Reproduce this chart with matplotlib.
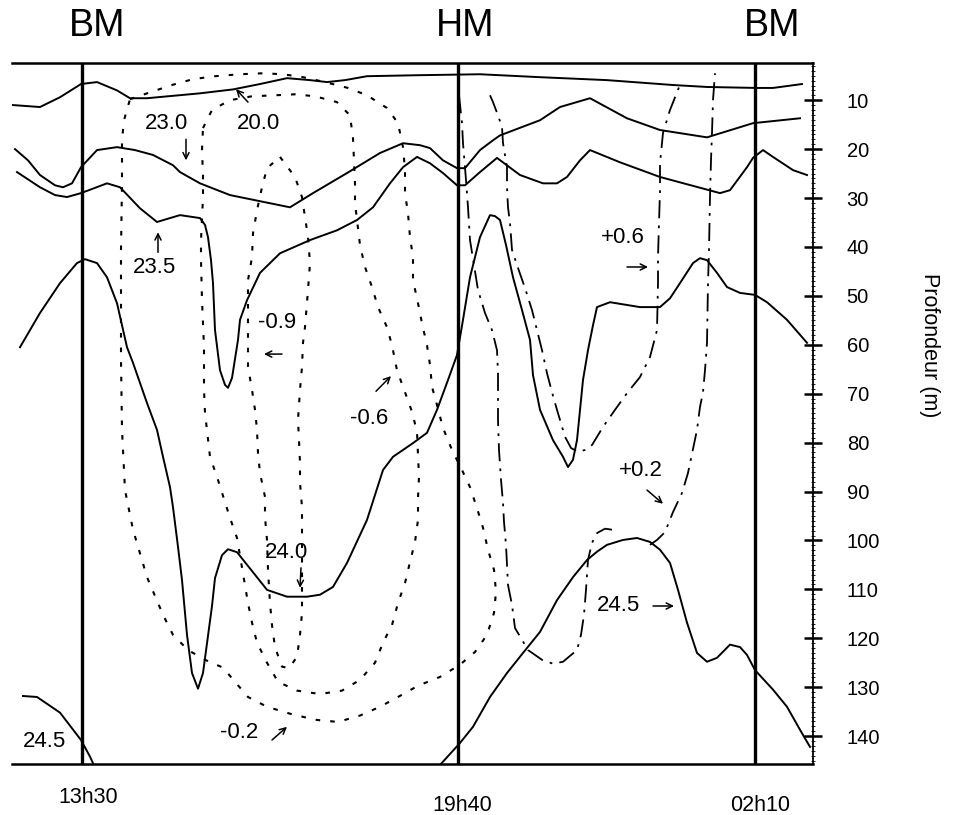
import matplotlib
matplotlib.use("Agg")
import matplotlib.pyplot as plt
from matplotlib.transforms import ScaledTranslation
from matplotlib import font_manager

plt.rcParams['font.family'] = ['Liberation Sans', 'DejaVu Sans']

# ---------------- data (x: relative time coordinate, d: depth in m) ----------------
tide_x = [8.2, 45.8, 75.5]                 # BM, HM, BM vertical lines
tide_labels = ["BM", "HM", "BM"]
tide_label_x = [9.75, 46.5, 77.2]
time_labels = ["13h30", "19h40", "02h10"]
time_x = [8.8, 46.2, 76.0]
depth_ticks = [10, 20, 30, 40, 50, 60, 70, 80, 90, 100, 110, 120, 130, 140]

# isopycnals (solid)
iso200_x = [1.3, 4.0, 6.0, 8.1, 9.7, 11.7, 13.0, 14.7, 20.0, 23.3, 26.0, 28.7, 31.0, 32.7, 34.5,
            36.7, 41.7, 48.0, 54.0, 60.7, 67.3, 70.7, 75.7, 77.3, 80.2]
iso200_d = [11.0, 11.4, 9.4, 6.7, 6.3, 8.0, 9.6, 9.6, 8.6, 7.8, 6.7, 5.5, 5.9, 6.3, 5.9,
            5.1, 4.9, 4.7, 5.3, 5.9, 6.9, 7.3, 7.5, 7.5, 6.7]

iso230_x = [1.5, 2.8, 4.0, 5.5, 6.3, 7.2, 8.1, 9.7, 11.7, 13.5, 15.3, 17.3, 18.0, 20.0, 23.0,
            29.0, 31.3, 34.7, 38.0, 40.3, 42.0, 43.0, 44.3, 45.7, 46.5, 48.0, 49.3, 50.0, 54.0,
            56.0, 59.0, 62.7, 66.0, 70.7, 75.3, 80.0]
iso230_d = [20.0, 22.3, 25.3, 27.4, 27.8, 27.0, 23.7, 20.2, 19.6, 20.2, 21.2, 23.3, 24.7, 27.0, 29.4,
            31.9, 29.0, 24.9, 20.8, 18.8, 19.2, 19.8, 22.3, 23.9, 23.9, 20.2, 18.2, 17.2, 14.1,
            11.4, 9.6, 13.7, 16.1, 17.6, 14.7, 13.7]

iso235_x = [1.7, 4.0, 5.5, 6.7, 8.1, 10.7, 12.0, 14.0, 15.7, 17.0, 18.0, 20.0, 20.5, 20.8, 21.1,
            21.3, 21.5, 22.0, 22.5, 22.8, 23.2, 23.8, 24.0, 24.7, 26.0, 28.0, 31.0, 33.7, 35.7,
            37.3, 39.0, 40.3, 41.7, 43.0, 44.3, 45.7, 46.5, 48.0, 49.7, 52.0, 54.3, 55.7, 56.7,
            58.0, 59.0, 62.0, 66.0, 72.0, 73.0, 74.7, 75.3, 76.3, 77.3, 79.3, 80.7]
iso235_d = [24.7, 27.8, 29.4, 29.8, 29.0, 27.0, 27.8, 32.1, 34.9, 34.1, 33.5, 34.1, 35.5, 38.0, 42.7,
            47.4, 57.0, 65.2, 68.2, 68.8, 66.8, 59.0, 54.9, 50.9, 45.3, 41.3, 38.6, 36.6, 34.5,
            31.9, 27.0, 23.7, 21.6, 22.9, 24.9, 27.4, 27.4, 24.7, 21.8, 25.3, 27.0, 27.0, 25.7,
            22.3, 20.2, 22.7, 25.7, 29.0, 28.4, 23.7, 21.8, 20.2, 21.6, 24.3, 25.3]

iso240_x = [2.0, 4.0, 6.0, 7.7, 8.5, 9.7, 10.7, 11.7, 12.7, 13.3, 14.7, 15.7, 16.3, 17.0, 17.3,
            17.8, 18.2, 18.7, 19.2, 19.8, 20.3, 20.8, 21.2, 21.5, 22.2, 22.8, 23.7, 25.3, 26.7,
            28.7, 30.7, 32.0, 33.3, 34.7, 36.7, 38.3, 39.3, 41.3, 42.7, 43.7, 44.8, 45.7, 46.3,
            47.0, 48.0, 49.0, 49.5, 50.0, 50.6, 51.3, 52.2, 53.0, 53.3, 54.0, 55.3, 56.3, 56.8,
            57.3, 57.7, 58.3, 58.8, 59.3, 59.7, 61.0, 64.0, 66.0, 67.0, 68.0, 69.3, 70.0, 70.7,
            71.7, 72.7, 74.0, 75.5, 76.7, 78.7, 80.7]
iso240_d = [60.5, 53.5, 47.4, 43.3, 42.5, 43.3, 46.2, 51.5, 60.5, 63.7, 71.9, 77.4, 82.9, 89.1, 93.2,
            101.3, 108.1, 119.3, 127.1, 130.3, 127.1, 119.5, 113.4, 107.7, 103.0, 101.8, 102.4, 106.5, 110.1,
            111.5, 111.5, 111.1, 109.5, 104.6, 95.8, 85.6, 82.9, 80.1, 78.0, 73.3, 67.2, 62.1, 54.9,
            46.2, 38.0, 33.5, 33.7, 34.5, 39.6, 46.2, 52.9, 59.0, 66.2, 73.3, 79.5, 82.9, 85.0,
            83.5, 79.5, 67.2, 61.1, 56.0, 52.3, 51.3, 52.3, 52.3, 50.5, 47.4, 43.3, 42.3, 42.7,
            45.3, 48.2, 49.4, 49.8, 51.3, 54.9, 59.6]

iso245a_x = [2.3, 3.7, 6.0, 8.1, 9.0, 9.4]
iso245a_d = [131.8, 132.0, 135.2, 140.8, 144.2, 146.0]
iso245b_x = [44.0, 46.0, 47.3, 49.0, 50.7, 52.3, 54.0, 55.7, 57.3, 58.7, 59.7, 60.7, 62.3, 63.7, 65.0,
             66.0, 67.0, 67.8, 68.7, 69.7, 70.7, 71.7, 73.0, 74.0, 74.7, 75.5, 77.3, 78.7, 80.0, 81.0]
iso245b_d = [145.9, 141.4, 138.1, 132.0, 127.1, 123.0, 118.7, 112.2, 107.5, 104.0, 102.3, 100.9, 99.9, 99.5, 100.3,
             101.9, 104.6, 110.1, 116.8, 123.0, 124.8, 124.0, 121.3, 121.8, 123.4, 126.5, 130.5, 134.0, 138.7, 142.2]

# current isotachs, negative (dotted)
vm02_x = [13.0, 15.0, 17.2, 19.3, 21.5, 24.0, 26.3, 28.3, 30.3, 32.5, 34.8, 36.7, 38.7, 39.8, 40.3,
          40.5, 40.5, 40.8, 41.0, 41.3, 41.3, 41.8, 42.2, 42.7, 43.0, 43.2, 43.7, 44.3, 45.2, 46.2,
          47.0, 47.7, 48.3, 48.8, 49.4, 49.6, 49.4, 48.7, 47.5, 46.0, 44.0, 41.8, 39.8, 38.0, 36.0,
          33.8, 31.7, 29.3, 26.7, 24.8, 23.5, 22.3, 20.5, 18.8, 17.3, 16.3, 14.7, 13.3, 12.5, 12.2,
          12.1, 12.1, 12.2, 12.2, 12.4, 13.0]
vm02_d = [9.8, 8.4, 6.9, 5.7, 5.1, 4.7, 4.5, 4.7, 5.3, 6.3, 7.5, 9.0, 11.6, 14.7, 19.6,
          24.3, 29.0, 33.1, 38.0, 42.1, 46.8, 51.5, 55.6, 60.1, 64.1, 68.6, 72.3, 77.0, 81.5, 85.6,
          89.1, 93.4, 97.4, 101.9, 106.0, 110.5, 114.8, 119.3, 122.8, 125.4, 127.9, 129.7, 132.0, 134.0, 135.8,
          137.1, 136.7, 135.6, 134.0, 132.0, 128.9, 126.0, 124.4, 122.4, 119.3, 115.2, 107.5, 97.8, 89.7, 77.4,
          63.1, 40.6, 27.0, 18.2, 14.1, 9.8]

vm06_x = [20.3, 21.2, 23.0, 25.2, 27.5, 29.5, 31.5, 33.7, 35.0, 35.3, 35.4, 35.5, 35.5, 36.0, 36.5,
          37.2, 37.8, 38.7, 39.2, 39.7, 40.5, 41.2, 41.7, 41.8, 41.9, 41.8, 41.8, 41.5, 41.0, 40.5,
          39.8, 39.2, 38.3, 37.5, 36.0, 34.2, 32.0, 29.7, 27.8, 26.7, 25.7, 25.2, 24.8, 23.7, 23.0,
          21.7, 21.0, 20.5, 20.4, 20.4, 20.2, 20.1, 20.1, 20.3, 20.3, 20.2, 20.3]
vm06_d = [15.7, 12.0, 10.0, 9.2, 9.0, 8.8, 9.2, 10.4, 13.1, 17.8, 22.3, 27.0, 31.0, 39.6, 44.1,
          48.2, 52.3, 56.4, 60.1, 65.2, 69.7, 73.7, 77.8, 82.5, 87.0, 91.3, 95.8, 100.3, 104.4, 108.7,
          112.8, 117.3, 120.9, 125.0, 128.5, 130.7, 131.4, 130.7, 128.9, 125.0, 120.9, 116.8, 112.8, 99.5, 95.4,
          87.0, 82.9, 73.9, 69.2, 60.5, 50.9, 42.7, 38.6, 29.8, 25.3, 20.2, 15.7]

vm09_x = [28.0, 29.5, 30.2, 30.5, 30.8, 31.0, 30.8, 30.5, 30.3, 30.2, 30.0, 29.8, 29.9, 30.0, 30.0,
          30.2, 30.2, 30.2, 30.2, 30.0, 29.7, 28.9, 28.2, 27.5, 27.2, 27.0, 26.8, 26.7, 26.5, 26.5,
          26.0, 25.8, 25.7, 25.5, 25.2, 24.8, 24.8, 24.8, 24.8, 25.2, 25.3, 25.7, 26.2, 26.7, 28.0]
vm09_d = [21.6, 25.7, 29.8, 33.9, 38.0, 43.3, 48.8, 56.4, 59.6, 64.5, 69.2, 75.4, 79.5, 84.2, 88.2,
          93.2, 97.8, 106.0, 114.8, 119.3, 123.8, 126.1, 125.8, 121.8, 117.3, 112.8, 106.0, 99.9, 95.2, 91.1,
          86.2, 82.1, 77.4, 73.3, 69.2, 64.5, 59.0, 51.5, 46.8, 42.1, 37.2, 32.5, 27.8, 23.9, 21.6]

# current isotachs, positive (dash-dot)
vp02a_x = [45.9, 46.2, 46.3, 46.6, 46.8, 47.0, 47.4, 47.8, 48.5, 49.2, 49.7, 49.8, 49.8, 49.8, 49.9,
           50.1, 50.3, 50.4, 50.6, 50.7, 50.8, 51.2, 51.5, 52.8, 54.2, 55.3, 56.3, 57.7, 58.1, 58.4,
           58.6, 58.8, 59.2, 59.7, 60.5, 61.2]
vp02a_d = [9.0, 14.7, 18.8, 26.3, 31.9, 38.6, 43.7, 48.8, 53.5, 57.0, 61.1, 65.8, 69.9, 75.4, 81.5,
           87.6, 92.3, 96.2, 100.9, 105.0, 109.1, 113.2, 117.9, 122.4, 124.4, 125.2, 124.8, 122.4, 119.3, 115.2,
           110.1, 104.0, 100.5, 98.5, 97.6, 97.8]
vp02b_x = [65.0, 65.7, 66.5, 67.3, 68.2, 68.8, 69.7, 70.0, 70.3, 70.5, 70.7, 70.8, 70.9, 71.0, 71.1,
           71.2, 71.3, 71.5]
vp02b_d = [100.9, 99.9, 98.3, 94.2, 90.3, 86.2, 77.4, 72.7, 69.7, 65.2, 59.6, 47.4, 40.6, 29.8, 22.3,
           16.7, 10.0, 4.5]

vp06_x = [49.0, 49.3, 49.8, 50.2, 50.3, 50.7, 50.7, 50.8, 51.0, 51.2, 51.8, 52.5, 53.2, 53.7, 54.2,
          54.7, 55.2, 55.7, 56.5, 57.1, 57.8, 58.5, 59.2, 60.3, 61.5, 62.7, 64.0, 65.0, 65.7, 65.8,
          65.8, 65.9, 66.0, 66.0, 66.3, 67.0, 67.7, 68.1]
vp06_d = [9.0, 10.4, 13.1, 15.5, 18.8, 23.7, 27.8, 31.9, 35.1, 40.6, 44.3, 48.4, 52.9, 57.0, 61.1,
          65.8, 69.7, 73.3, 78.8, 81.1, 81.9, 81.5, 80.5, 76.8, 73.3, 69.9, 66.6, 62.5, 57.0, 47.4,
          42.1, 35.1, 28.4, 22.9, 16.7, 12.0, 8.4, 6.3]

# contour labels: text, label position (x, depth), arrow tail, arrow head
label_texts = ["23.0", "20.0", "23.5", "-0.9", "-0.6", "24.0", "-0.2", "24.5", "+0.6", "+0.2", "24.5"]
label_pos = [(16.6, 14.7), (25.9, 14.7), (15.5, 44.3), (27.7, 55.4), (36.9, 75.0), (28.6, 102.5),
             (23.9, 139.3), (4.4, 141.2), (62.3, 38.0), (64.1, 85.6), (61.9, 113.4)]
arrow_from = [(18.6, 18.0), (24.8, 10.4), (15.8, 41.1), (28.2, 61.9), (37.6, 69.5), (30.1, 105.6),
              (27.2, 140.8), None, (62.7, 44.1), (64.7, 89.7), (65.3, 113.4)]
arrow_to = [(18.6, 22.3), (23.6, 7.75), (15.8, 37.0), (26.4, 61.9), (39.1, 66.4), (30.0, 109.7),
            (28.7, 138.1), None, (64.8, 44.1), (66.3, 92.5), (67.4, 113.4)]

# ---------------- figure ----------------
fig = plt.figure(figsize=(9.62, 8.15), dpi=100)
ax = fig.add_axes([12 / 962, 1 - 764 / 815, (813 - 12) / 962, (764 - 63) / 815])
ax.set_xlim(1.2, 81.3)
ax.set_ylim(145.7, 2.4)

solid = [(iso200_x, iso200_d), (iso230_x, iso230_d), (iso235_x, iso235_d), (iso240_x, iso240_d),
         (iso245a_x, iso245a_d), (iso245b_x, iso245b_d)]
for xs, ds in solid:
    ax.plot(xs, ds, color='black', lw=1.4, solid_joinstyle='round', zorder=3)

for xs, ds in [(vm02_x, vm02_d), (vm06_x, vm06_d), (vm09_x, vm09_d)]:
    ax.plot(xs, ds, color='black', lw=1.5, ls=(0, (2.2, 4.8)), dash_capstyle='butt', zorder=2)

for xs, ds in [(vp02a_x, vp02a_d), (vp02b_x, vp02b_d), (vp06_x, vp06_d)]:
    ax.plot(xs, ds, color='black', lw=1.3, ls=(0, (10, 4, 1.5, 4)), dash_capstyle='butt', zorder=2)

for xv in tide_x:
    ax.axvline(xv, color='black', lw=2.4, zorder=4)

for txt, pos, a0, a1 in zip(label_texts, label_pos, arrow_from, arrow_to):
    ax.text(pos[0], pos[1], txt, ha='center', va='center', fontsize=16, zorder=5)
    if a0 is not None:
        ax.annotate('', xy=a1, xytext=a0,
                    arrowprops=dict(arrowstyle='->', lw=1.1, color='black',
                                    shrinkA=0, shrinkB=0, mutation_scale=11), zorder=5)

# spines / ticks
ax.spines['left'].set_visible(False)
ax.spines['top'].set_linewidth(1.8)
ax.spines['bottom'].set_linewidth(1.8)
ax.spines['right'].set_linewidth(1.3)

ax.yaxis.tick_right()
ax.set_yticks(depth_ticks)
ax.set_yticks(range(3, 146, 1), minor=True)
ax.tick_params(axis='y', which='major', direction='inout', length=12.5, width=1.8,
               labelsize=14.5, pad=18)
ax.tick_params(axis='y', which='minor', direction='inout', length=3, width=0.6)

ax.set_xticks(time_x, time_labels)
ax.tick_params(axis='x', length=0, pad=22, labelsize=15.5)
first = ax.get_xticklabels()[0]
first.set_transform(first.get_transform() + ScaledTranslation(0, 8 / 100, fig.dpi_scale_trans))

sec = ax.secondary_xaxis('top')
sec.set_xticks(tide_label_x, tide_labels)
sec.tick_params(length=0, pad=14, labelsize=27)
sec.spines['top'].set_visible(False)

# y label: use a narrow face if one is installed
names = {f.name for f in font_manager.fontManager.ttflist}
if 'Liberation Sans Narrow' in names:
    lab_family, lab_size = 'Liberation Sans Narrow', 18
else:
    lab_family, lab_size = 'Liberation Sans', 15.5
ax.yaxis.set_label_position('right')
ax.set_ylabel('Profondeur (m)', rotation=-90, fontsize=lab_size, fontfamily=lab_family,
              va='center', ha='center')
ax.yaxis.set_label_coords(1.146, 0.598)

fig.savefig('out.png', dpi=100)
